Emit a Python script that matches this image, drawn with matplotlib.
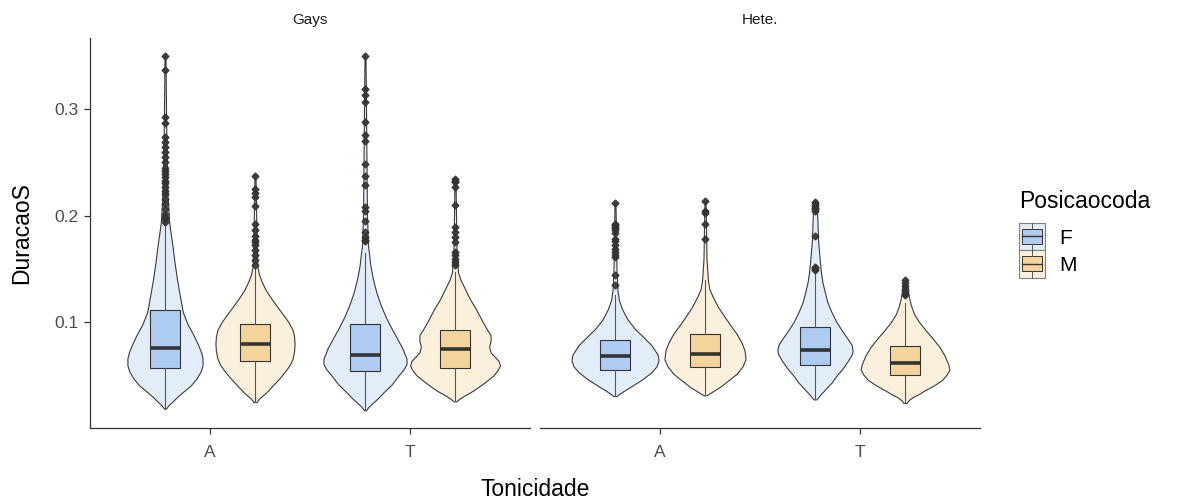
import numpy as np
import matplotlib
matplotlib.use("Agg")
import matplotlib.pyplot as plt
from matplotlib.legend_handler import HandlerBase
from matplotlib.patches import Rectangle
from matplotlib.lines import Line2D

plt.rcParams["font.family"] = ["Liberation Sans", "DejaVu Sans"]

facets = ["Gays", "Hete."]
tonicidade = ["A", "T"]
posicao = ["F", "M"]

# one entry per (facet, tonicidade, posicao) group
group_facet = ["Gays", "Gays", "Gays", "Gays", "Hete.", "Hete.", "Hete.", "Hete."]
group_ton = ["A", "A", "T", "T", "A", "A", "T", "T"]
group_pos = ["F", "M", "F", "M", "F", "M", "F", "M"]

# boxplot summaries
q1 = [0.0577, 0.0636, 0.0542, 0.0573, 0.0551, 0.0583, 0.0604, 0.0505]
median = [0.0765, 0.0801, 0.0698, 0.0748, 0.0685, 0.0707, 0.0738, 0.0620]
q3 = [0.1115, 0.0988, 0.0988, 0.0932, 0.0832, 0.0888, 0.0956, 0.0776]
whisk_lo = [0.0193, 0.0255, 0.0178, 0.0262, 0.0311, 0.0318, 0.0280, 0.0246]
whisk_hi = [0.1920, 0.1516, 0.1650, 0.1470, 0.1253, 0.1400, 0.1450, 0.1180]

outliers = [
    [0.3495, 0.3364, 0.2919, 0.2866, 0.2732, 0.2685, 0.2638, 0.2592, 0.2545,
     0.2498, 0.2445, 0.2421, 0.2390, 0.2358, 0.2327, 0.2300, 0.2265, 0.2234,
     0.2203, 0.2156, 0.2109, 0.2062, 0.2016, 0.1985, 0.1969, 0.1938],
    [0.2374, 0.2250, 0.2212, 0.2171, 0.2087, 0.1920, 0.1860, 0.1813, 0.1775,
     0.1750, 0.1720, 0.1673, 0.1626, 0.1580, 0.1539],
    [0.3489, 0.3180, 0.3130, 0.3059, 0.2879, 0.2750, 0.2700, 0.2483, 0.2374,
     0.2287, 0.2078, 0.2047, 0.1953, 0.1844, 0.1798, 0.1775, 0.1766],
    [0.2343, 0.2327, 0.2311, 0.2265, 0.2100, 0.1890, 0.1844, 0.1798, 0.1750,
     0.1657, 0.1626, 0.1595, 0.1565, 0.1533],
    [0.2118, 0.1925, 0.1910, 0.1895, 0.1880, 0.1860, 0.1840, 0.1782, 0.1766,
     0.1720, 0.1690, 0.1655, 0.1626, 0.1610, 0.1439, 0.1352],
    [0.2140, 0.2047, 0.2025, 0.1922, 0.1782],
    [0.2125, 0.2105, 0.2090, 0.2075, 0.2060, 0.2047, 0.1807, 0.1520, 0.1505,
     0.1486],
    [0.1393, 0.1365, 0.1340, 0.1310, 0.1290, 0.1268, 0.1252],
]

# kernel density profiles (value, relative density)
dens_y = [
    [0.0193, 0.0225, 0.0255, 0.0300, 0.0349, 0.0410, 0.0477, 0.0540, 0.0598,
     0.0664, 0.0720, 0.0790, 0.0879, 0.0980, 0.1097, 0.1250, 0.1410, 0.1570,
     0.1720, 0.1850, 0.1940, 0.2200, 0.2600, 0.3000, 0.3495],
    [0.0255, 0.0285, 0.0318, 0.0360, 0.0411, 0.0470, 0.0536, 0.0600, 0.0660,
     0.0730, 0.0800, 0.0870, 0.0930, 0.1000, 0.1065, 0.1140, 0.1221, 0.1300,
     0.1377, 0.1450, 0.1517, 0.1800, 0.2100, 0.2380],
    [0.0178, 0.0210, 0.0240, 0.0290, 0.0349, 0.0420, 0.0505, 0.0560, 0.0610,
     0.0660, 0.0754, 0.0850, 0.0941, 0.1050, 0.1159, 0.1280, 0.1408, 0.1530,
     0.1650, 0.1720, 0.2000, 0.2500, 0.3000, 0.3489],
    [0.0262, 0.0290, 0.0318, 0.0360, 0.0411, 0.0460, 0.0505, 0.0560, 0.0598,
     0.0640, 0.0680, 0.0720, 0.0770, 0.0830, 0.0880, 0.0940, 0.1030, 0.1128,
     0.1220, 0.1315, 0.1400, 0.1470, 0.1700, 0.2000, 0.2343],
    [0.0311, 0.0335, 0.0360, 0.0411, 0.0470, 0.0536, 0.0590, 0.0645, 0.0700,
     0.0785, 0.0860, 0.0941, 0.1030, 0.1128, 0.1210, 0.1300, 0.1500, 0.1800,
     0.2118],
    [0.0318, 0.0350, 0.0396, 0.0460, 0.0520, 0.0590, 0.0655, 0.0738, 0.0810,
     0.0894, 0.0970, 0.1050, 0.1140, 0.1237, 0.1310, 0.1390, 0.1600, 0.1900,
     0.2140],
    [0.0280, 0.0320, 0.0380, 0.0440, 0.0505, 0.0570, 0.0629, 0.0707, 0.0738,
     0.0790, 0.0847, 0.0920, 0.1003, 0.1100, 0.1190, 0.1280, 0.1377, 0.1470,
     0.1564, 0.1670, 0.1780, 0.1950, 0.2125],
    [0.0246, 0.0275, 0.0302, 0.0330, 0.0364, 0.0410, 0.0458, 0.0510, 0.0560,
     0.0614, 0.0690, 0.0769, 0.0850, 0.0925, 0.1000, 0.1081, 0.1160, 0.1237,
     0.1310, 0.1393],
]
dens_v = [
    [1, 3.5, 7, 12, 18, 26, 32, 36, 38, 38, 36.5, 33.5, 29, 23, 18, 15, 12,
     9.5, 7.5, 5.5, 4.2, 2.5, 1.5, 1.0, 0.5],
    [1.5, 4, 8, 13, 18, 24, 30, 35, 38, 39.5, 40, 39.5, 38, 34, 29, 23, 16.7,
     11, 7, 4, 2.5, 1.5, 1.0, 0.5],
    [1, 3.5, 7, 13, 19, 27, 34, 39, 42, 42, 38, 32.5, 27, 21, 16, 11.5, 8,
     5.5, 4, 3, 2, 1.5, 1.0, 0.5],
    [1.5, 5, 10, 18, 26, 33, 39, 43.5, 45.5, 44, 40, 36, 34.5, 36, 36, 32,
     26.5, 21, 15, 10, 5.5, 3, 1.5, 1.0, 0.5],
    [1.5, 5, 9, 18, 28, 37, 42, 44, 43, 37, 29, 20, 12.5, 7, 4, 2.5, 1.5,
     1.0, 0.5],
    [1.5, 7, 15, 24, 32, 38, 41, 40, 37, 32, 26, 20, 13.5, 8, 4.5, 3, 1.5,
     1.0, 0.5],
    [1.5, 5, 11, 17, 22, 28, 32.5, 37.5, 38, 37, 33, 27.5, 21.7, 16.5, 12.5,
     10, 7.5, 6, 5, 4, 3, 2.5, 1.5],
    [1.5, 4, 8, 14, 20, 29, 37, 42, 45, 43.5, 40, 35, 28, 21, 14.5, 9, 6, 4,
     2.5, 1],
]

box_fill = {"F": "#AECBF2", "M": "#F4D49B"}
violin_fill = {"F": "#E3EDFA", "M": "#FBF0DC"}
dodge = {"F": -0.225, "M": 0.225}
DARK = "#333333"


class BoxKey(HandlerBase):
    def __init__(self, light, dark):
        super().__init__()
        self.light = light
        self.dark = dark

    def create_artists(self, legend, orig_handle, xdescent, ydescent,
                       width, height, fontsize, trans):
        x0, y0 = -xdescent, -ydescent
        xm = x0 + width / 2
        lo, hi = y0 + 0.25 * height, y0 + 0.78 * height
        outer = Rectangle((x0, y0), width, height, facecolor=self.light,
                          edgecolor="#808080", lw=0.8, transform=trans)
        box = Rectangle((x0 + 0.1 * width, lo), 0.8 * width, hi - lo,
                        facecolor=self.dark, edgecolor=DARK, lw=0.7,
                        transform=trans)
        med = Line2D([x0 + 0.1 * width, x0 + 0.9 * width],
                     [(lo + hi) / 2] * 2, color=DARK, lw=1.0, transform=trans)
        w1 = Line2D([xm, xm], [y0, lo], color="#555555", lw=0.7, transform=trans)
        w2 = Line2D([xm, xm], [hi, y0 + height], color="#555555", lw=0.7,
                    transform=trans)
        return [outer, box, med, w1, w2]


fig = plt.figure(figsize=(11.78, 5.04), dpi=100)
ax_l = fig.add_axes([90 / 1178, 76 / 504, 440 / 1178, 390 / 504])
ax_r = fig.add_axes([540 / 1178, 76 / 504, 440 / 1178, 390 / 504], sharey=ax_l)
axes = {"Gays": ax_l, "Hete.": ax_r}

max_dens = max(max(v) for v in dens_v)

for i in range(len(group_facet)):
    ax = axes[group_facet[i]]
    p = group_pos[i]
    pos = tonicidade.index(group_ton[i]) + 1 + dodge[p]

    stats = {
        "coords": np.array(dens_y[i]),
        "vals": np.array(dens_v[i]),
        "mean": median[i], "median": median[i],
        "min": min(dens_y[i]), "max": max(dens_y[i]),
    }
    vp = ax.violin([stats], positions=[pos],
                   widths=[0.45 * max(dens_v[i]) / max_dens],
                   showextrema=False)
    for body in vp["bodies"]:
        body.set_facecolor(violin_fill[p])
        body.set_alpha(1)
        body.set_edgecolor("#3a3a3a")
        body.set_linewidth(0.8)
        body.set_zorder(1)

    bstats = [{"med": median[i], "q1": q1[i], "q3": q3[i],
               "whislo": whisk_lo[i], "whishi": whisk_hi[i],
               "fliers": outliers[i]}]
    ax.bxp(bstats, positions=[pos], widths=0.15, patch_artist=True,
           showcaps=False, manage_ticks=False, zorder=2,
           boxprops=dict(facecolor=box_fill[p], edgecolor=DARK, linewidth=0.8),
           whiskerprops=dict(color="#555555", linewidth=0.8),
           medianprops=dict(color=DARK, linewidth=2.6, solid_capstyle="butt"),
           flierprops=dict(marker="D", markersize=3.5, markerfacecolor=DARK,
                           markeredgecolor=DARK, alpha=0.9))

all_y = [y for d in dens_y for y in d]
lo, hi = min(all_y), max(all_y)
pad = 0.05 * (hi - lo)

for name, ax in axes.items():
    ax.set_xlim(0.4, 2.6)
    ax.set_ylim(lo - pad, hi + pad)
    ax.set_xticks([1, 2])
    ax.set_xticklabels(tonicidade)
    for s in ["top", "right"]:
        ax.spines[s].set_visible(False)
    for s in ["left", "bottom"]:
        ax.spines[s].set_color(DARK)
        ax.spines[s].set_linewidth(0.9)
    ax.tick_params(axis="both", direction="out", length=4, width=0.9,
                   color=DARK, labelsize=12.5, labelcolor="#4d4d4d", pad=4)
    ax.tick_params(axis="x", pad=8)
    ax.text(0.5, 1 + 18 / 390, name, transform=ax.transAxes, ha="center",
            va="center", fontsize=11, color="#1a1a1a")

ax_l.set_yticks([0.1, 0.2, 0.3])
ax_l.set_yticklabels(["0.1", "0.2", "0.3"])
ax_r.spines["left"].set_visible(False)
ax_r.tick_params(axis="y", left=False, labelleft=False)

fig.text(535 / 1178, 1 - 490 / 504, "Tonicidade", ha="center", va="center",
         fontsize=16.5)
fig.text(22 / 1178, 1 - 233 / 504, "DuracaoS", ha="center", va="center",
         rotation=90, fontsize=16.5)

# legend: title drawn on its own so the gap to the keys can be set
fig.text(1019 / 1178, 1 - 202 / 504, "Posicaocoda", ha="left", va="center",
         fontsize=16.5)
handles = [Rectangle((0, 0), 1, 1, facecolor=box_fill[p]) for p in posicao]
hmap = {h: BoxKey(violin_fill[p], box_fill[p]) for h, p in zip(handles, posicao)}
fig.legend(handles, posicao, handler_map=hmap,
           loc="upper left", bbox_to_anchor=(1019 / 1178, 1 - 223 / 504),
           frameon=False, fontsize=15,
           handlelength=1.25, handleheight=1.65, labelspacing=0.0,
           handletextpad=0.7, borderpad=0, borderaxespad=0)

fig.savefig("out.png", dpi=100)
